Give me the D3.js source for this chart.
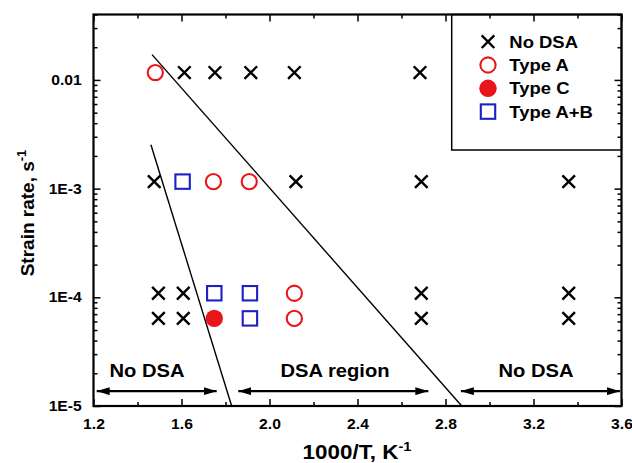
<!DOCTYPE html>
<html>
<head>
<meta charset="utf-8">
<script src="https://cdn.jsdelivr.net/npm/d3@7"></script>
<style>
  body { margin: 0; background: #fff; }
  svg { font-family: Arial, 'Liberation Sans', sans-serif; font-weight: bold; }
</style>
</head>
<body>
<div id="chart"></div>
<script>
// 1000/T (K^-1) and strain rate (s^-1)
const noDSA = [
  [1.613, 0.0117], [1.752, 0.0117], [1.915, 0.0117], [2.113, 0.0117], [2.684, 0.0117],
  [1.476, 1.16e-3], [2.12, 1.16e-3], [2.69, 1.16e-3], [3.36, 1.16e-3],
  [1.495, 1.09e-4], [1.608, 1.09e-4], [2.69, 1.09e-4], [3.36, 1.09e-4],
  [1.495, 6.4e-5], [1.608, 6.4e-5], [2.69, 6.4e-5], [3.36, 6.4e-5],
];
const typeA = [[1.481, 0.0117], [1.745, 1.16e-3], [1.908, 1.16e-3], [2.113, 1.09e-4], [2.113, 6.4e-5]];
const typeC = [[1.749, 6.4e-5]];
const typeAB = [[1.605, 1.16e-3], [1.749, 1.09e-4], [1.911, 1.09e-4], [1.911, 6.4e-5]];

const boundaryLines = [
  [[1.461, 2.53e-3], [1.828, 1e-5]],
  [[1.466, 0.0171], [2.874, 1e-5]],
];

const regions = [
  { label: 'No DSA', from: 1.2145, to: 1.76, labelX: 1.443 },
  { label: 'DSA region', from: 1.858, to: 2.722, labelX: 2.298 },
  { label: 'No DSA', from: 2.870, to: 3.593, labelX: 3.211 },
];
const regionArrowY = 1.37e-5;
const regionLabelY = 1.85e-5;

const xTicks = [1.2, 1.6, 2.0, 2.4, 2.8, 3.2, 3.6];
const xMinorTicks = [1.4, 1.8, 2.2, 2.6, 3.0, 3.4];
const yTicks = [1e-5, 1e-4, 1e-3, 1e-2];
const yTickLabels = ['1E-5', '1E-4', '1E-3', '0.01'];

const width = 632;
const height = 463;
const margin = { top: 14.5, right: 10.5, bottom: 57, left: 93.5 };
const plotW = width - margin.left - margin.right;
const plotH = height - margin.top - margin.bottom;
const stretch = 'scale(1.12, 1)'; // the source figure is a little wide

const red = '#e8161b';
const blue = '#1f1fc8';

const svg = d3.select('#chart').append('svg')
  .attr('width', width)
  .attr('height', height);

const g = svg.append('g')
  .attr('transform', `translate(${margin.left}, ${margin.top})`);

const x = d3.scaleLinear().domain([1.2, 3.6]).range([0, plotW]);
const y = d3.scaleLog().domain([1e-5, 0.04]).range([plotH, 0]);

const yMinor = y.ticks().filter(v => !yTicks.some(t => Math.abs(t - v) / t < 1e-6));

// legend box sits under the frame ticks
const legendLeft = 358.2;
const legend = g.append('g').attr('transform', `translate(${legendLeft}, 0)`);
legend.append('rect')
  .attr('width', plotW - legendLeft)
  .attr('height', 135.5)
  .attr('fill', '#fff')
  .attr('stroke', '#000')
  .attr('stroke-width', 1.5);

// axes: ticks point inward on all four sides
const styleAxis = sel => {
  sel.select('.domain').remove();
  sel.selectAll('.tick line').attr('stroke', '#000').attr('stroke-width', 1.5);
  sel.selectAll('.tick text').attr('fill', '#000').style('font-size', '14px').style('font-weight', 'bold');
};

g.append('g').attr('transform', `translate(0, ${plotH})`)
  .call(d3.axisBottom(x).tickValues(xTicks).tickSize(-7).tickPadding(13).tickFormat(d3.format('.1f')))
  .call(styleAxis)
  .call(a => a.selectAll('.tick text').attr('transform', stretch));
g.append('g').attr('transform', `translate(0, ${plotH})`)
  .call(d3.axisBottom(x).tickValues(xMinorTicks).tickSize(-4).tickFormat(''))
  .call(styleAxis);
g.append('g')
  .call(d3.axisTop(x).tickValues(xTicks).tickSize(-7).tickFormat(''))
  .call(styleAxis);
g.append('g')
  .call(d3.axisTop(x).tickValues(xMinorTicks).tickSize(-4).tickFormat(''))
  .call(styleAxis);

g.append('g')
  .call(d3.axisLeft(y).tickValues(yTicks).tickSize(-7).tickPadding(11).tickFormat((d, i) => yTickLabels[i]))
  .call(styleAxis)
  .call(a => a.selectAll('.tick text').attr('x', -10.5).attr('transform', stretch));
g.append('g')
  .call(d3.axisLeft(y).tickValues(yMinor).tickSize(-4).tickFormat(''))
  .call(styleAxis);
g.append('g').attr('transform', `translate(${plotW}, 0)`)
  .call(d3.axisRight(y).tickValues(yTicks).tickSize(-7).tickFormat(''))
  .call(styleAxis);
g.append('g').attr('transform', `translate(${plotW}, 0)`)
  .call(d3.axisRight(y).tickValues(yMinor).tickSize(-4).tickFormat(''))
  .call(styleAxis);

g.append('rect')
  .attr('width', plotW)
  .attr('height', plotH)
  .attr('fill', 'none')
  .attr('stroke', '#000')
  .attr('stroke-width', 2.2);

// boundary lines
const line = d3.line().x(d => x(d[0])).y(d => y(d[1]));
g.selectAll('.bound')
  .data(boundaryLines)
  .enter().append('path')
  .attr('class', 'bound')
  .attr('d', line)
  .attr('fill', 'none')
  .attr('stroke', '#000')
  .attr('stroke-width', 1.4);

// markers
const crossPath = s => `M${-s},${-s}L${s},${s}M${-s},${s}L${s},${-s}`;
const drawCross = (sel) => sel.append('path')
  .attr('d', crossPath(6.3))
  .attr('fill', 'none')
  .attr('stroke', '#000')
  .attr('stroke-width', 2.4);
const drawOpenCircle = (sel) => sel.append('circle')
  .attr('r', 7.6)
  .attr('fill', 'none')
  .attr('stroke', red)
  .attr('stroke-width', 2.1);
const drawFilledCircle = (sel) => sel.append('circle')
  .attr('r', 8.7)
  .attr('fill', red);
const drawSquare = (sel) => sel.append('rect')
  .attr('x', -7.2).attr('y', -7.2)
  .attr('width', 14.4).attr('height', 14.4)
  .attr('fill', 'none')
  .attr('stroke', blue)
  .attr('stroke-width', 2.1);

const series = [
  { name: 'No DSA', data: noDSA, draw: drawCross },
  { name: 'Type A', data: typeA, draw: drawOpenCircle },
  { name: 'Type C', data: typeC, draw: drawFilledCircle },
  { name: 'Type A+B', data: typeAB, draw: drawSquare },
];

series.forEach(sr => {
  g.append('g').selectAll('g')
    .data(sr.data)
    .enter().append('g')
    .attr('transform', d => `translate(${x(d[0])}, ${y(d[1])})`)
    .call(sr.draw);
});

// legend entries
series.forEach((sr, i) => {
  const row = legend.append('g').attr('transform', `translate(36.3, ${27.2 + i * 23.3})`);
  row.call(sr.draw);
  row.append('g').attr('transform', `translate(21.3, 6) ${stretch}`)
    .append('text')
    .style('font-size', '16.5px')
    .text(sr.name);
});

// region arrows
const defs = svg.append('defs');
defs.append('marker')
  .attr('id', 'head')
  .attr('viewBox', '0 0 13 8')
  .attr('refX', 13).attr('refY', 4)
  .attr('markerWidth', 13).attr('markerHeight', 8)
  .attr('markerUnits', 'userSpaceOnUse')
  .attr('orient', 'auto-start-reverse')
  .append('path')
  .attr('d', 'M0,0L13,4L0,8Z')
  .attr('fill', '#000');

const reg = g.append('g').selectAll('g').data(regions).enter().append('g');
reg.append('line')
  .attr('x1', d => x(d.from))
  .attr('x2', d => x(d.to))
  .attr('y1', y(regionArrowY))
  .attr('y2', y(regionArrowY))
  .attr('stroke', '#000')
  .attr('stroke-width', 2.4)
  .attr('marker-start', 'url(#head)')
  .attr('marker-end', 'url(#head)');
reg.append('g')
  .attr('transform', d => `translate(${x(d.labelX)}, ${y(regionLabelY)}) ${stretch}`)
  .append('text')
  .attr('text-anchor', 'middle')
  .style('font-size', '18px')
  .text(d => d.label);

// axis titles
const xTitle = svg.append('g')
  .attr('transform', `translate(357, 459) ${stretch}`)
  .append('text')
  .attr('text-anchor', 'middle')
  .style('font-size', '20px');
xTitle.append('tspan').text('1000/T, K');
xTitle.append('tspan').attr('dy', -8).style('font-size', '13px').text('-1');

const yTitle = svg.append('text')
  .attr('transform', 'translate(34, 213) rotate(-90)')
  .attr('text-anchor', 'middle')
  .style('font-size', '19px');
yTitle.append('tspan').text('Strain rate, s');
yTitle.append('tspan').attr('dy', -8).style('font-size', '13px').text('-1');
</script>
</body>
</html>
